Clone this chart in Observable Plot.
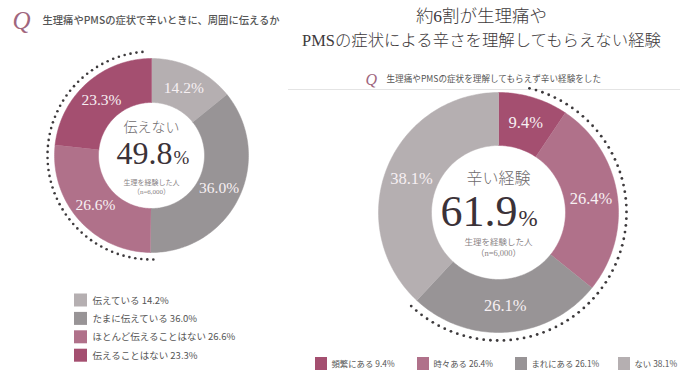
<!DOCTYPE html>
<html><head><meta charset="utf-8">
<script src="https://cdn.jsdelivr.net/npm/d3@7"></script>
<script src="https://cdn.jsdelivr.net/npm/@observablehq/plot@0.6"></script>
<style>body{margin:0;background:#fff}#chart{width:680px;height:382px}</style>
</head><body><div id="chart"></div>
<script>
// ---- data ----
const leftQuestion = "生理痛やPMSの症状で辛いときに、周囲に伝えるか";
const leftCategories = ["伝えている", "たまに伝えている", "ほとんど伝えることはない", "伝えることはない"];
const leftValues = [14.2, 36.0, 26.6, 23.3];
const leftCenterLabel = "伝えない";
const leftCenterValue = "49.8";

const rightTitle = ["約6割が生理痛や", "PMSの症状による辛さを理解してもらえない経験"];
const rightQuestion = "生理痛やPMSの症状を理解してもらえず辛い経験をした";
const rightCategories = ["頻繁にある", "時々ある", "まれにある", "ない"];
const rightValues = [9.4, 26.4, 26.1, 38.1];
const rightCenterLabel = "辛い経験";
const rightCenterValue = "61.9";

const sampleNote = ["生理を経験した人", "（n=6,000）"];

// ---- styles / layout ----
const LG = "#b5afb1", G = "#989496", M = "#b0718a", DM = "#a44f70";
const colorDomain = [...leftCategories, ...rightCategories];
const colorRange = [LG, G, M, DM, DM, M, G, LG];
const SERIF = "'Liberation Serif','Noto Sans CJK JP',serif";
const SANS = "'Noto Sans CJK JP','Noto Sans',sans-serif";

const L = {cx: 151, cy: 155, r0: 53, r1: 97, dotR: 104, dotFrom: 179, dotTo: 355, dotN: 54};
const R = {cx: 498, cy: 212, r0: 67, r1: 120, dotR: 128, dotFrom: 14, dotTo: 223, dotN: 70};

function ring(cats, vals, g) {
  const total = d3.sum(vals);
  let acc = 0;
  const pts = [], labels = [];
  cats.forEach((c, i) => {
    const a0 = acc / total * 2 * Math.PI; acc += vals[i];
    const a1 = acc / total * 2 * Math.PI;
    const n = Math.max(2, Math.ceil((a1 - a0) / 0.02));
    for (let k = 0; k <= n; k++) { const a = a0 + (a1 - a0) * k / n; pts.push({key: c, x: g.cx + g.r1 * Math.sin(a), y: g.cy - g.r1 * Math.cos(a)}); }
    for (let k = n; k >= 0; k--) { const a = a0 + (a1 - a0) * k / n; pts.push({key: c, x: g.cx + g.r0 * Math.sin(a), y: g.cy - g.r0 * Math.cos(a)}); }
    const am = (a0 + a1) / 2, rm = (g.r0 + g.r1) / 2;
    labels.push({text: vals[i].toFixed(1) + "%", x: g.cx + rm * Math.sin(am), y: g.cy - rm * Math.cos(am)});
  });
  return {pts, labels};
}
function dotArc(g) {
  return d3.range(g.dotN).map(k => {
    const a = (g.dotFrom + (g.dotTo - g.dotFrom) * k / (g.dotN - 1)) * Math.PI / 180;
    return {x: g.cx + g.dotR * Math.sin(a), y: g.cy - g.dotR * Math.cos(a)};
  });
}
const lr = ring(leftCategories, leftValues, L);
const rr = ring(rightCategories, rightValues, R);

const T = (x, y, text) => [{x, y, text}];
const txt = (data, opts) => Plot.text(data, {x: "x", y: "y", text: "text", ...opts});

const leftLegend = leftCategories.map((c, i) => ({key: c, x: 74, y: 300 + 18.4 * i, text: `${c} ${leftValues[i].toFixed(1)}%`}));
const rightLegendX = [315, 417, 515, 618];
const rightLegend = rightCategories.map((c, i) => ({key: c, x: rightLegendX[i], y: 363.5, text: `${c} ${rightValues[i].toFixed(1)}%`}));

const chart = Plot.plot({
  width: 680, height: 382, margin: 0,
  x: {domain: [0, 680], range: [0, 680], axis: null},
  y: {domain: [0, 382], range: [0, 382], axis: null},
  color: {domain: colorDomain, range: colorRange},
  style: {background: "#fff", overflow: "visible"},
  marks: [
    Plot.ruleY([89], {x1: 288, x2: 680, stroke: "#e4e4e4", strokeWidth: 1}),
    // donuts
    Plot.line(lr.pts, {x: "x", y: "y", z: "key", fill: "key", stroke: "key", strokeWidth: 0.5, curve: "linear"}),
    Plot.line(rr.pts, {x: "x", y: "y", z: "key", fill: "key", stroke: "key", strokeWidth: 0.5, curve: "linear"}),
    Plot.dot(dotArc(L), {x: "x", y: "y", r: 1.3, fill: "#3d3a3c"}),
    Plot.dot(dotArc(R), {x: "x", y: "y", r: 1.4, fill: "#3d3a3c"}),
    // segment labels
    txt(lr.labels, {fill: "#f7f0f3", fontSize: 15.5, fontFamily: SERIF}),
    txt(rr.labels, {fill: "#f7f0f3", fontSize: 16.5, fontFamily: SERIF}),
    // left center
    txt(T(L.cx, 127, leftCenterLabel), {fill: "#6e6a6c", fontSize: 14, fontFamily: SANS, fontWeight: 300}),
    txt(T(172, 163, leftCenterValue), {fill: "#3b3238", fontSize: 32, fontFamily: SERIF, textAnchor: "end", lineAnchor: "bottom"}),
    txt(T(173, 163, "%"), {fill: "#3b3238", fontSize: 19, fontFamily: SERIF, textAnchor: "start", lineAnchor: "bottom"}),
    txt(T(L.cx, 182, sampleNote[0]), {fill: "#8a8486", fontSize: 7, fontFamily: SANS}),
    txt(T(L.cx, 191, sampleNote[1]), {fill: "#8a8486", fontSize: 7, fontFamily: SERIF}),
    // right center
    txt(T(R.cx, 178, rightCenterLabel), {fill: "#6e6a6c", fontSize: 16, fontFamily: SANS, fontWeight: 300}),
    txt(T(517, 225, rightCenterValue), {fill: "#3b3238", fontSize: 44, fontFamily: SERIF, textAnchor: "end", lineAnchor: "bottom"}),
    txt(T(518, 225, "%"), {fill: "#3b3238", fontSize: 23, fontFamily: SERIF, textAnchor: "start", lineAnchor: "bottom"}),
    txt(T(R.cx, 242, sampleNote[0]), {fill: "#8a8486", fontSize: 8.5, fontFamily: SANS}),
    txt(T(R.cx, 253, sampleNote[1]), {fill: "#8a8486", fontSize: 8.5, fontFamily: SERIF}),
    // titles
    txt(T(12, 20, "Q"), {fill: "#a0667e", fontSize: 25, fontFamily: SERIF, fontStyle: "italic", textAnchor: "start"}),
    txt(T(42, 20, leftQuestion), {fill: "#555", fontSize: 10.3, fontFamily: SANS, fontWeight: 500, textAnchor: "start"}),
    txt(T(481, 16, rightTitle[0]), {fill: "#3e3a3c", fontSize: 17.5, fontFamily: SERIF, fontWeight: 300}),
    txt(T(481, 40, rightTitle[1]), {fill: "#3e3a3c", fontSize: 16.4, fontFamily: SERIF, fontWeight: 300}),
    txt(T(365, 79, "Q"), {fill: "#a0667e", fontSize: 16, fontFamily: SERIF, fontStyle: "italic", textAnchor: "start"}),
    txt(T(386, 79, rightQuestion), {fill: "#555", fontSize: 8.6, fontFamily: SANS, textAnchor: "start"}),
    // legends
    Plot.rect(leftLegend, {x1: "x", x2: d => d.x + 13, y1: d => d.y - 6.5, y2: d => d.y + 6.5, fill: "key"}),
    txt(leftLegend, {x: d => d.x + 18, fill: "#555", fontSize: 9.5, fontFamily: SANS, textAnchor: "start"}),
    Plot.rect(rightLegend, {x1: "x", x2: d => d.x + 12, y1: d => d.y - 6.5, y2: d => d.y + 6.5, fill: "key"}),
    txt(rightLegend, {x: d => d.x + 16, fill: "#555", fontSize: 8.4, fontFamily: SANS, textAnchor: "start"})
  ]
});
document.getElementById("chart").append(chart);
</script></body></html>
